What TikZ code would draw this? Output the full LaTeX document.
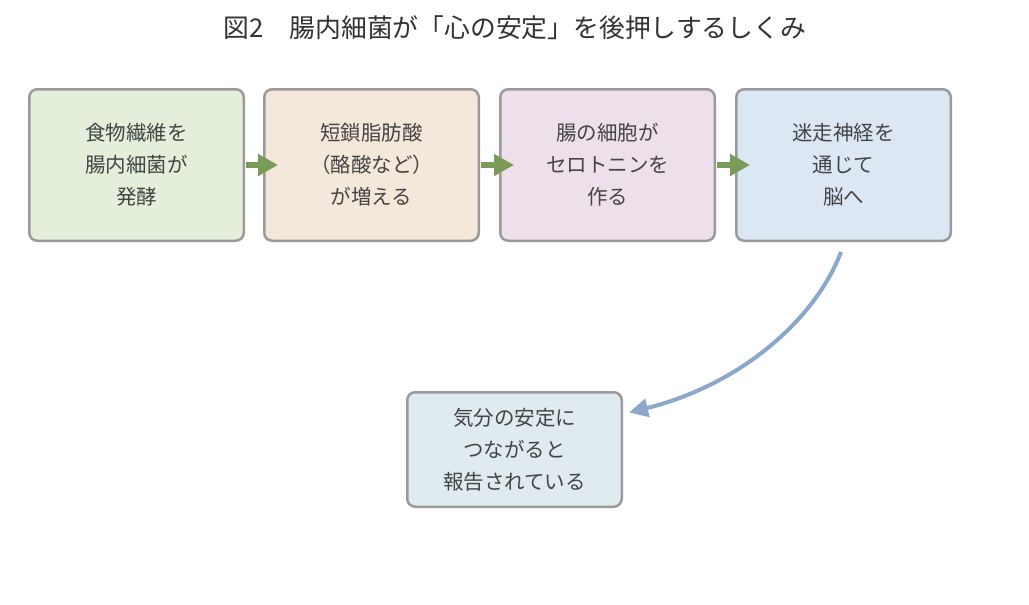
\documentclass[tikz,border=0pt]{standalone}
\usepackage{fontspec}
\setmainfont{Noto Sans CJK JP}
\usetikzlibrary{arrows.meta}
\definecolor{boxgray}{HTML}{9A9A9A}
\definecolor{txt}{HTML}{444444}
\definecolor{titletxt}{HTML}{333333}
\definecolor{fillA}{HTML}{E3EEDB}
\definecolor{fillB}{HTML}{F4E8DB}
\definecolor{fillC}{HTML}{EEE0EA}
\definecolor{fillD}{HTML}{DCE7F4}
\definecolor{fillE}{HTML}{E0EBEF}
\definecolor{greenarrow}{HTML}{7A9A5A}
\definecolor{bluearrow}{HTML}{8BA7CB}
\begin{document}
\begin{tikzpicture}[x=1pt,y=-1pt,
  box/.style={draw=boxgray, line width=2.5pt, rounded corners=8pt,
    minimum width=214.5pt, minimum height=151.5pt, align=center,
    font=\fontsize{20.5pt}{32pt}\selectfont, text=txt, inner sep=0pt},
  flow/.style={draw=greenarrow, line width=5.5pt, -{Triangle[length=20pt,width=21pt]}},
  link/.style={draw=bluearrow, line width=4pt, -{Triangle[length=19pt,width=18pt]}}]
\fill[white] (0,0) rectangle (1029,605);
\useasboundingbox (0,0) rectangle (1029,605);
\node[font=\fontsize{25.8pt}{30pt}\selectfont, text=titletxt] (title) at (515,28) {図2　腸内細菌が「心の安定」を後押しするしくみ};
\node[box, fill=fillA] (b1) at (136.5,165) {食物繊維を\\腸内細菌が\\発酵};
\node[box, fill=fillB] (b2) at (371.5,165) {短鎖脂肪酸\\（酪酸など）\\が増える};
\node[box, fill=fillC] (b3) at (607.5,165) {腸の細胞が\\セロトニンを\\作る};
\node[box, fill=fillD] (b4) at (843.5,165) {迷走神経を\\通じて\\脳へ};
\node[box, fill=fillE, minimum height=114.5pt] (b5) at (514.5,449.5) {気分の安定に\\つながると\\報告されている};
\draw[flow] ([xshift=1pt]b1.east) -- ([xshift=15pt]b2.west);
\draw[flow] ([xshift=1pt]b2.east) -- ([xshift=15pt]b3.west);
\draw[flow] ([xshift=1pt]b3.east) -- ([xshift=15pt]b4.west);
\coordinate (s) at ([shift={(-2.5,10)}]b4.south);
\coordinate (e) at ([shift={(6,-37)}]b5.east);
\draw[link] (s) .. controls (815,320) and (740,385) .. (e);
\end{tikzpicture}
\end{document}
